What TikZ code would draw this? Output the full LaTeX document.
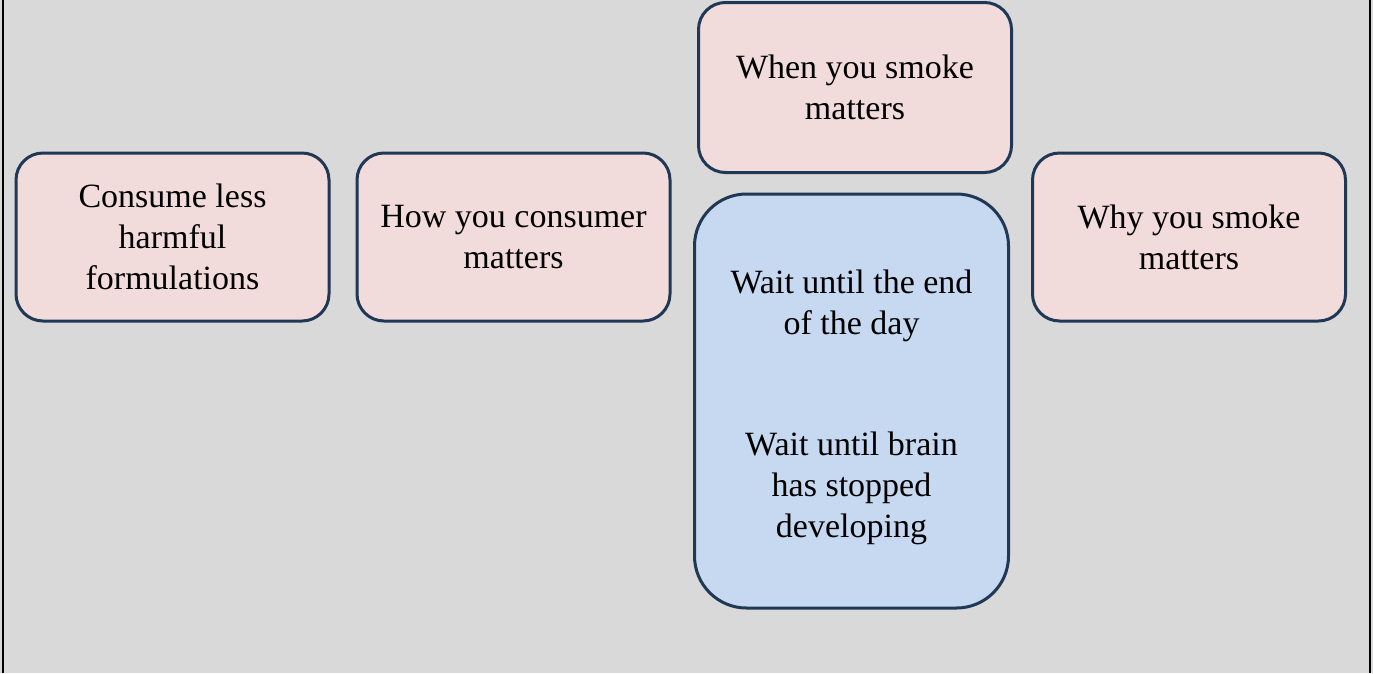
\documentclass[tikz,border=0pt]{standalone}
\usepackage{fontspec}
\setmainfont{Liberation Serif}
\definecolor{bggray}{HTML}{D9D9D9}
\definecolor{boxpink}{HTML}{F2DCDB}
\definecolor{boxblue}{HTML}{C6D9F1}
\definecolor{boxedge}{HTML}{1F3855}

\begin{document}
\begin{tikzpicture}
        [%%%%%%%%%%%%%%%%%%%%%%%%%%%%%%
        x=1pt,y=-1pt,
        box/.style={rectangle,rounded corners=27pt,draw=boxedge,line width=3pt,
          fill=boxpink,minimum width=313pt,minimum height=168pt,inner sep=0pt,
          align=center,font=\fontsize{34}{41}\selectfont},
        bluebox/.style={box,fill=boxblue,rounded corners=52pt,
          minimum width=314pt,minimum height=414pt},
        boxtext/.style={align=center,inner sep=0pt,font=\fontsize{34}{41}\selectfont},
        ]%%%%%%%%%%%%%%%%%%%%%%%%%%%%%%
        \useasboundingbox (0,0) rectangle (1373,673);
        \fill[bggray] (0,0) rectangle (1373,673);
        % side frame lines
        \draw[line width=2.5pt] (3,0) -- (3,673);
        \draw[line width=2.5pt] (1370,0) -- (1370,673);

        \node[box] (consume) at (172.5,237) {Consume less\\harmful\\formulations};
        \node[box] (how) at (513.5,237) {How you consumer\\matters};
        \node[box,minimum height=170pt] (when) at (855,87.5) {When you smoke\\matters};
        \node[box] (why) at (1189,237) {Why you smoke\\matters};
        \node[bluebox] (wait) at (851.5,401) {};
        \node[boxtext] (waittext) at ([yshift=-6pt]wait.center)
          {Wait until the end\\of the day\\[80pt]Wait until brain\\has stopped\\developing};

      \end{tikzpicture}
\end{document}
